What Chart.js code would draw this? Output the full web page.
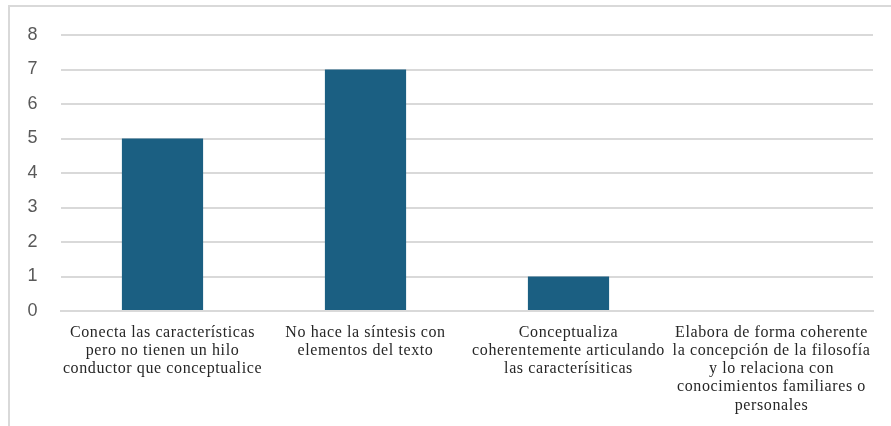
<!DOCTYPE html>
<html>
<head>
<meta charset="utf-8">
<script src="https://cdn.jsdelivr.net/npm/chart.js@4"></script>
<style>
  html, body { margin: 0; padding: 0; background: #fff; overflow: hidden; }
  #wrap { position: relative; width: 891px; height: 426px; }
  #frame { position: absolute; left: 8px; top: 5px; width: 900px; height: 440px; border: 2px solid #d9d9d9; box-sizing: border-box; }
  canvas { position: absolute; left: 0; top: 0; }
</style>
</head>
<body>
<div id="wrap">
  <div id="frame"></div>
  <canvas id="barChart" width="891" height="426"></canvas>
</div>
<script>
// categories, one array of lines per bar
const categories = [
  ['Conecta las características', 'pero no tienen un hilo', 'conductor que conceptualice'],
  ['No hace la síntesis con', 'elementos del texto'],
  ['Conceptualiza', 'coherentemente articulando', 'las caracterísiticas'],
  ['Elabora de forma coherente', 'la concepción de la filosofía', 'y lo relaciona con', 'conocimientos familiares o', 'personales']
];
const values = [5, 7, 1, 0];
const yTicks = [0, 1, 2, 3, 4, 5, 6, 7, 8];

// the original labels are set with loose letter spacing
const spacing = {
  id: 'spacing',
  beforeLayout: chart => { chart.ctx.letterSpacing = '0.6px'; },
  beforeDraw: chart => { chart.ctx.letterSpacing = '0.6px'; }
};

const ctx = document.getElementById('barChart').getContext('2d');
new Chart(ctx, {
  type: 'bar',
  plugins: [spacing],
  data: {
    labels: categories,
    datasets: [{
      label: 'Serie 1',
      data: values,
      backgroundColor: '#1b5f82',
      categoryPercentage: 1,
      barPercentage: 0.4
    }]
  },
  options: {
    responsive: false,
    animation: false,
    layout: { padding: { top: 35, right: 18, left: 0, bottom: 0 } },
    plugins: {
      legend: { display: false },
      tooltip: { enabled: false }
    },
    scales: {
      x: {
        grid: { display: false, drawTicks: false },
        border: { display: true, color: '#d9d9d9', width: 2 },
        ticks: {
          maxRotation: 0,
          autoSkip: false,
          padding: 13,
          color: '#262626',
          font: { family: 'Liberation Serif', size: 16, lineHeight: 1.13 }
        },
        afterFit: scale => { scale.height = 115; }
      },
      y: {
        min: yTicks[0],
        max: yTicks[yTicks.length - 1],
        afterBuildTicks: scale => { scale.ticks = yTicks.map(v => ({ value: v })); },
        grid: { color: '#d9d9d9', lineWidth: 2, drawTicks: false },
        border: { display: false },
        ticks: {
          padding: 23,
          color: '#595959',
          font: { family: 'Liberation Sans', size: 18 }
        },
        afterFit: scale => { scale.width = 61; }
      }
    }
  }
});
</script>
</body>
</html>
